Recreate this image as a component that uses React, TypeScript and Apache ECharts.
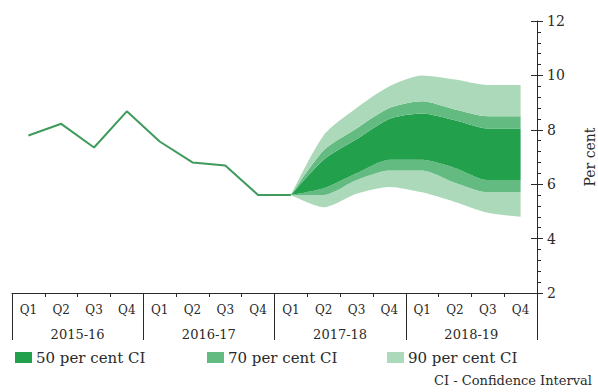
import React, { useEffect, useRef } from "react";
import * as echarts from "echarts";

// Quarterly axis: four fiscal years, four quarters each
const fiscalYears = ["2015-16", "2016-17", "2017-18", "2018-19"];
const quarterLabels = ["Q1", "Q2", "Q3", "Q4"];

// Actual outturn (per cent), Q1 2015-16 to Q1 2017-18
const actual = [7.79, 8.22, 7.35, 8.68, 7.57, 6.8, 6.69, 5.6, 5.6];

// Projection fan, Q1 2017-18 to Q4 2018-19 (per cent)
const ci90Upper = [5.6, 7.8, 8.8, 9.6, 10.0, 9.85, 9.65, 9.65];
const ci70Upper = [5.6, 7.25, 8.05, 8.8, 9.05, 8.75, 8.5, 8.5];
const ci50Upper = [5.6, 6.9, 7.65, 8.4, 8.6, 8.35, 8.05, 8.05];
const ci50Lower = [5.6, 5.85, 6.4, 6.9, 6.9, 6.6, 6.15, 6.15];
const ci70Lower = [5.6, 5.6, 6.15, 6.5, 6.5, 6.05, 5.7, 5.7];
const ci90Lower = [5.6, 5.15, 5.65, 5.9, 5.7, 5.35, 4.95, 4.8];

const yTicks = { min: 2, max: 12, interval: 2 };

const C50 = "#22a04c";
const C70 = "#63bb82";
const C90 = "#acd9b9";
const LINE = "#3f9a5c";
const INK = "#2a2a2a";
const FONT = "DejaVu Serif";

export default function App() {
  const ref = useRef<HTMLDivElement>(null);

  useEffect(() => {
    if (!ref.current) return;
    const chart = echarts.init(ref.current, undefined, { renderer: "svg" });

    const categories = fiscalYears.flatMap(() => quarterLabels);
    const fanStart = actual.length - 1;
    const pad = (arr: number[]) => [
      ...new Array(fanStart).fill(null),
      ...arr,
    ];
    const diff = (a: number[], b: number[]) => a.map((v, i) => +(v - b[i]).toFixed(3));

    const band = (name: string, values: (number | null)[], color: string | null) => ({
      name,
      type: "line",
      stack: "fan",
      data: values,
      symbol: "none",
      smooth: 0.25,
      silent: true,
      lineStyle: { width: 0, opacity: 0 },
      itemStyle: { color: color || "transparent" },
      areaStyle: color ? { color, opacity: 1 } : { opacity: 0 },
      z: 2,
    });

    const legendAt = (left: number, name: string, color: string) => ({
      left,
      top: 350,
      padding: 0,
      icon: "rect",
      itemWidth: 17,
      itemHeight: 11,
      itemGap: 0,
      selectedMode: false,
      textStyle: { fontFamily: FONT, fontSize: 15, color: INK, padding: [0, 0, 0, -1] },
      data: [{ name, itemStyle: { color } }],
    });

    chart.setOption({
      animation: false,
      grid: {
        left: 12,
        right: 61,
        top: 21,
        bottom: 99,
        containLabel: false,
        outerBoundsMode: "none",
      },
      xAxis: [
        {
          type: "category",
          data: categories,
          boundaryGap: true,
          axisLine: { lineStyle: { color: INK, width: 1 } },
          axisTick: { show: true, length: 4, interval: 0, lineStyle: { color: INK } },
          axisLabel: { interval: 0, margin: 11, fontFamily: FONT, fontSize: 12, color: INK },
          splitLine: { show: false },
        },
        {
          type: "category",
          position: "bottom",
          data: fiscalYears,
          boundaryGap: true,
          axisLine: { show: false },
          axisTick: { show: true, length: 47, interval: 0, lineStyle: { color: INK } },
          axisLabel: { interval: 0, margin: 35, fontFamily: FONT, fontSize: 13, color: INK },
          splitLine: { show: false },
        },
      ],
      yAxis: [
        {
          type: "value",
          position: "right",
          min: yTicks.min,
          max: yTicks.max,
          interval: yTicks.interval,
          name: "Per cent",
          nameLocation: "middle",
          nameRotate: 90,
          nameGap: 46,
          nameTextStyle: { fontFamily: FONT, fontSize: 14, color: INK },
          axisLine: { show: true, lineStyle: { color: INK, width: 1 } },
          axisTick: { show: true, length: 6, lineStyle: { color: INK } },
          minorTick: { show: true, splitNumber: 5, length: 4, lineStyle: { color: INK } },
          axisLabel: { margin: 10, fontFamily: FONT, fontSize: 14, color: INK },
          splitLine: { show: false },
        },
        {
          type: "value",
          position: "right",
          min: yTicks.min,
          max: yTicks.max,
          interval: yTicks.interval,
          axisLine: { show: false },
          axisTick: { show: true, inside: true, length: 6, lineStyle: { color: INK } },
          axisLabel: { show: false },
          splitLine: { show: false },
        },
      ],
      legend: [
        legendAt(15, "50 per cent CI", C50),
        legendAt(207, "70 per cent CI", C70),
        legendAt(387, "90 per cent CI", C90),
      ],
      graphic: [
        {
          type: "text",
          right: 6,
          top: 374,
          style: {
            text: "CI - Confidence Interval",
            fontFamily: FONT,
            fontSize: 13,
            fill: INK,
          },
        },
      ],
      series: [
        band("base", pad(ci90Lower), null),
        band("90 per cent CI", pad(diff(ci70Lower, ci90Lower)), C90),
        band("70 per cent CI", pad(diff(ci50Lower, ci70Lower)), C70),
        band("50 per cent CI", pad(diff(ci50Upper, ci50Lower)), C50),
        band("70 per cent CI", pad(diff(ci70Upper, ci50Upper)), C70),
        band("90 per cent CI", pad(diff(ci90Upper, ci70Upper)), C90),
        {
          name: "Actual",
          type: "line",
          data: actual,
          symbol: "none",
          silent: true,
          lineStyle: { color: LINE, width: 2 },
          itemStyle: { color: LINE },
          z: 3,
        },
      ],
    });

    return () => chart.dispose();
  }, []);

  return (
    <div
      ref={ref}
      style={{ position: "fixed", left: 0, top: 0, width: 598, height: 392, background: "#fff" }}
    />
  );
}
